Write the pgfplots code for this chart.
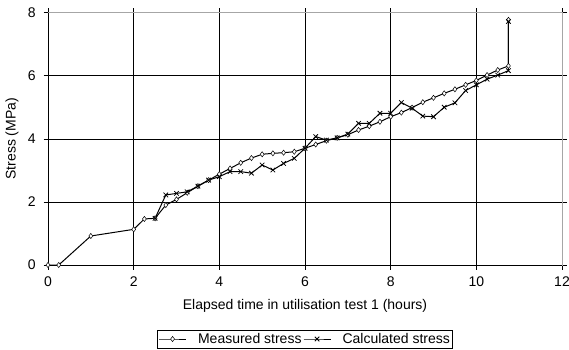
\documentclass[border=0pt]{standalone}
\usepackage{pgfplots}
\pgfplotsset{compat=1.18}
\usepackage{fontspec}
\setmainfont{Liberation Sans}
\begin{document}
\fontsize{14}{16}\selectfont
\begin{tikzpicture}[x=1pt,y=1pt]
\path[use as bounding box] (-48,-84) rectangle (521,265);
\begin{axis}[
  at={(0,0)}, anchor=south west,
  scale only axis, width=514pt, height=252.4pt,
  xmin=0, xmax=12, ymin=0, ymax=8,
  xtick={0,2,...,12}, ytick={0,2,...,8},
  grid=major, major grid style={black, line width=0.6pt},
  axis line style={draw=gray!70, line width=0.8pt},
  tick style={black, line width=0.6pt}, tick align=outside, major tick length=4.5pt,
  tick label style={font=\fontsize{14}{16}\selectfont},
  yticklabel style={xshift=-3pt},
  xticklabel style={yshift=-2pt},
  /pgf/number format/assume math mode=true,
  xlabel={Elapsed time in utilisation test 1 (hours)},
  ylabel={Stress (MPa)},
  label style={font=\fontsize{14}{16}\selectfont},
  xlabel style={at={(axis description cs:0.5,0)}, anchor=center, yshift=-41pt},
  ylabel style={at={(axis description cs:0,0.5)}, anchor=center, yshift=36pt},
  legend style={at={(axis description cs:0.5,0)}, anchor=center, yshift=-74pt,
    legend columns=2, draw=black, line width=0.6pt, font=\fontsize{14}{16}\selectfont,
    inner sep=1pt, nodes={inner xsep=1.5pt},
    /tikz/every even column/.append style={column sep=0pt},
    /tikz/every odd column/.append style={column sep=10pt}},
  legend image code/.code={%
    \draw[mark repeat=2, mark phase=2, line width=1pt, #1]
      plot coordinates {(0pt,0pt) (13.5pt,0pt) (27pt,0pt)};},
  clip=false,
]
\addplot[black, line width=1pt, mark=diamond*, mark size=2.6pt,
  mark options={fill=white, line width=0.5pt}] coordinates {
(0,0) (0.25,0) (1,0.92) (2,1.13) (2.25,1.46) (2.5,1.48) (2.75,1.90) (3,2.08)
(3.25,2.29) (3.5,2.50) (3.75,2.69) (4,2.88) (4.25,3.06) (4.5,3.24) (4.75,3.39)
(5,3.51) (5.25,3.54) (5.5,3.56) (5.75,3.59) (6,3.70) (6.25,3.82) (6.5,3.94)
(6.75,4.03) (7,4.13) (7.25,4.28) (7.5,4.40) (7.75,4.54) (8,4.70) (8.25,4.83)
(8.5,4.99) (8.75,5.16) (9,5.30) (9.25,5.44) (9.5,5.57) (9.75,5.71) (10,5.85)
(10.25,6.02) (10.5,6.18) (10.75,6.31) (10.75,7.77)
};
\addlegendentry{Measured stress}
\addplot[black, line width=1pt, mark=x, mark size=3.2pt,
  mark options={line width=0.8pt}] coordinates {
(2.5,1.48) (2.75,2.22) (3,2.27) (3.25,2.32) (3.5,2.50) (3.75,2.69) (4,2.80)
(4.25,2.96) (4.5,2.96) (4.75,2.91) (5,3.17) (5.25,3.01) (5.5,3.22) (5.75,3.38)
(6,3.70) (6.25,4.07) (6.5,3.96) (6.75,4.03) (7,4.15) (7.25,4.49) (7.5,4.49)
(7.75,4.81) (8,4.81) (8.25,5.15) (8.5,4.97) (8.75,4.72) (9,4.70) (9.25,5.00)
(9.5,5.14) (9.75,5.53) (10,5.71) (10.25,5.89) (10.5,6.02) (10.75,6.16) (10.75,7.72)
};
\addlegendentry{Calculated stress}
\draw[black, line width=0.8pt] (rel axis cs:0,1) -- (rel axis cs:0,0) -- (rel axis cs:1,0);
\end{axis}
\end{tikzpicture}
\end{document}
